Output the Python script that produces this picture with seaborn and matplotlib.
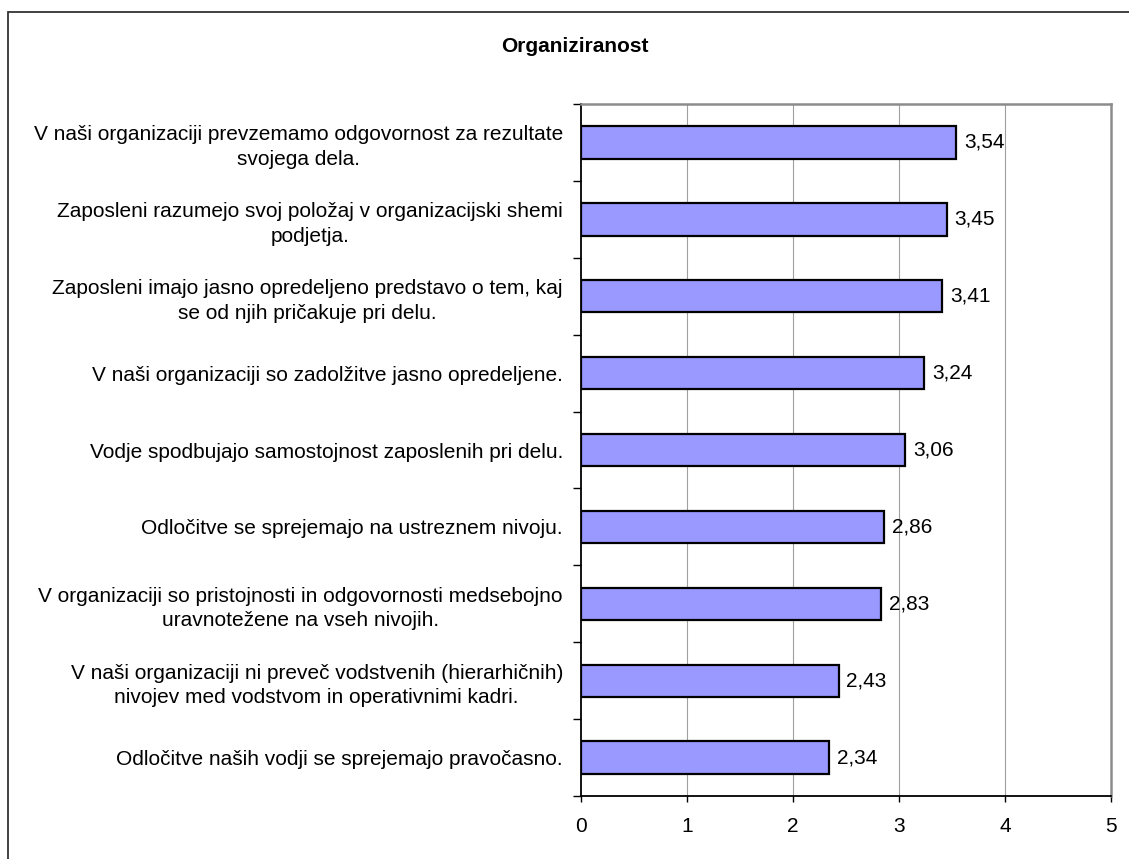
import matplotlib
matplotlib.use("Agg")
import matplotlib.pyplot as plt
import seaborn as sns
import pandas as pd
from matplotlib.patches import Rectangle

# Survey items (top to bottom) and their mean scores
statements = [
    "V naši organizaciji prevzemamo odgovornost za rezultate\nsvojega dela.",
    "Zaposleni razumejo svoj položaj v organizacijski shemi\npodjetja.",
    "Zaposleni imajo jasno opredeljeno predstavo o tem, kaj\nse od njih pričakuje pri delu.",
    "V naši organizaciji so zadolžitve jasno opredeljene.",
    "Vodje spodbujajo samostojnost zaposlenih pri delu.",
    "Odločitve se sprejemajo na ustreznem nivoju.",
    "V organizaciji so pristojnosti in odgovornosti medsebojno\nuravnotežene na vseh nivojih.",
    "V naši organizaciji ni preveč vodstvenih (hierarhičnih)\nnivojev med vodstvom in operativnimi kadri.",
    "Odločitve naših vodji se sprejemajo pravočasno.",
]
scores = [3.54, 3.45, 3.41, 3.24, 3.06, 2.86, 2.83, 2.43, 2.34]
title = "Organiziranost"
x_ticks = [0, 1, 2, 3, 4, 5]

df = pd.DataFrame({"statement": statements, "score": scores})

sns.set_theme(style="white")
plt.rcParams["font.family"] = ["Liberation Sans", "DejaVu Sans"]

FS = 15

fig = plt.figure(figsize=(11.29, 8.59), dpi=100)
ax = fig.add_axes([0.5146, 0.0733, 0.984 - 0.5146, 0.8789 - 0.0733])

sns.barplot(data=df, x="score", y="statement", orient="h", order=statements,
            color="#9999FF", saturation=1, width=0.42,
            edgecolor="black", linewidth=1.6, ax=ax, zorder=3)

ax.set_xlim(0, 5)
ax.set_ylim(len(statements) - 0.5, -0.5)
ax.set_xticks(x_ticks)
ax.set_xticklabels([str(t) for t in x_ticks], fontsize=FS, color="black")
ax.set_xlabel("")
ax.set_ylabel("")

# category labels centred on bars, tick marks at category boundaries
ax.set_yticks(range(len(statements)))
ax.set_yticklabels(statements, fontsize=FS, color="black", linespacing=1.35,
                   ha="right", multialignment="center")
ax.tick_params(axis="y", which="major", length=0, pad=13)
ax.set_yticks([i - 0.5 for i in range(len(statements) + 1)], minor=True)
ax.tick_params(axis="y", which="minor", left=True, length=5.5, width=1, color="black")
ax.tick_params(axis="x", which="major", bottom=True, length=4, width=1,
               color="black", pad=11)

# vertical gridlines
for v in x_ticks[1:-1]:
    ax.axvline(v, color="#a0a0a0", linewidth=0.8, zorder=1)

for side in ["left", "bottom"]:
    ax.spines[side].set_color("black")
    ax.spines[side].set_linewidth(1.3)
for side in ["top", "right"]:
    ax.spines[side].set_color("#8c8c8c")
    ax.spines[side].set_linewidth(1.8)

# value labels with decimal comma
for i, s in enumerate(scores):
    ax.text(s + 0.075, i, f"{s:.2f}".replace(".", ","), va="center", ha="left",
            fontsize=FS, color="black")

fig.text(575 / 1129, 1 - 47 / 859, title, ha="center", va="center",
         fontsize=FS, fontweight="bold", color="black")

# outer chart frame
fig.patches.append(Rectangle((8 / 1129, -0.05), 1.2, 1 - 12 / 859 + 0.05,
                             transform=fig.transFigure, fill=False,
                             edgecolor="#333333", linewidth=1.3))

fig.savefig("out.png", dpi=100)
